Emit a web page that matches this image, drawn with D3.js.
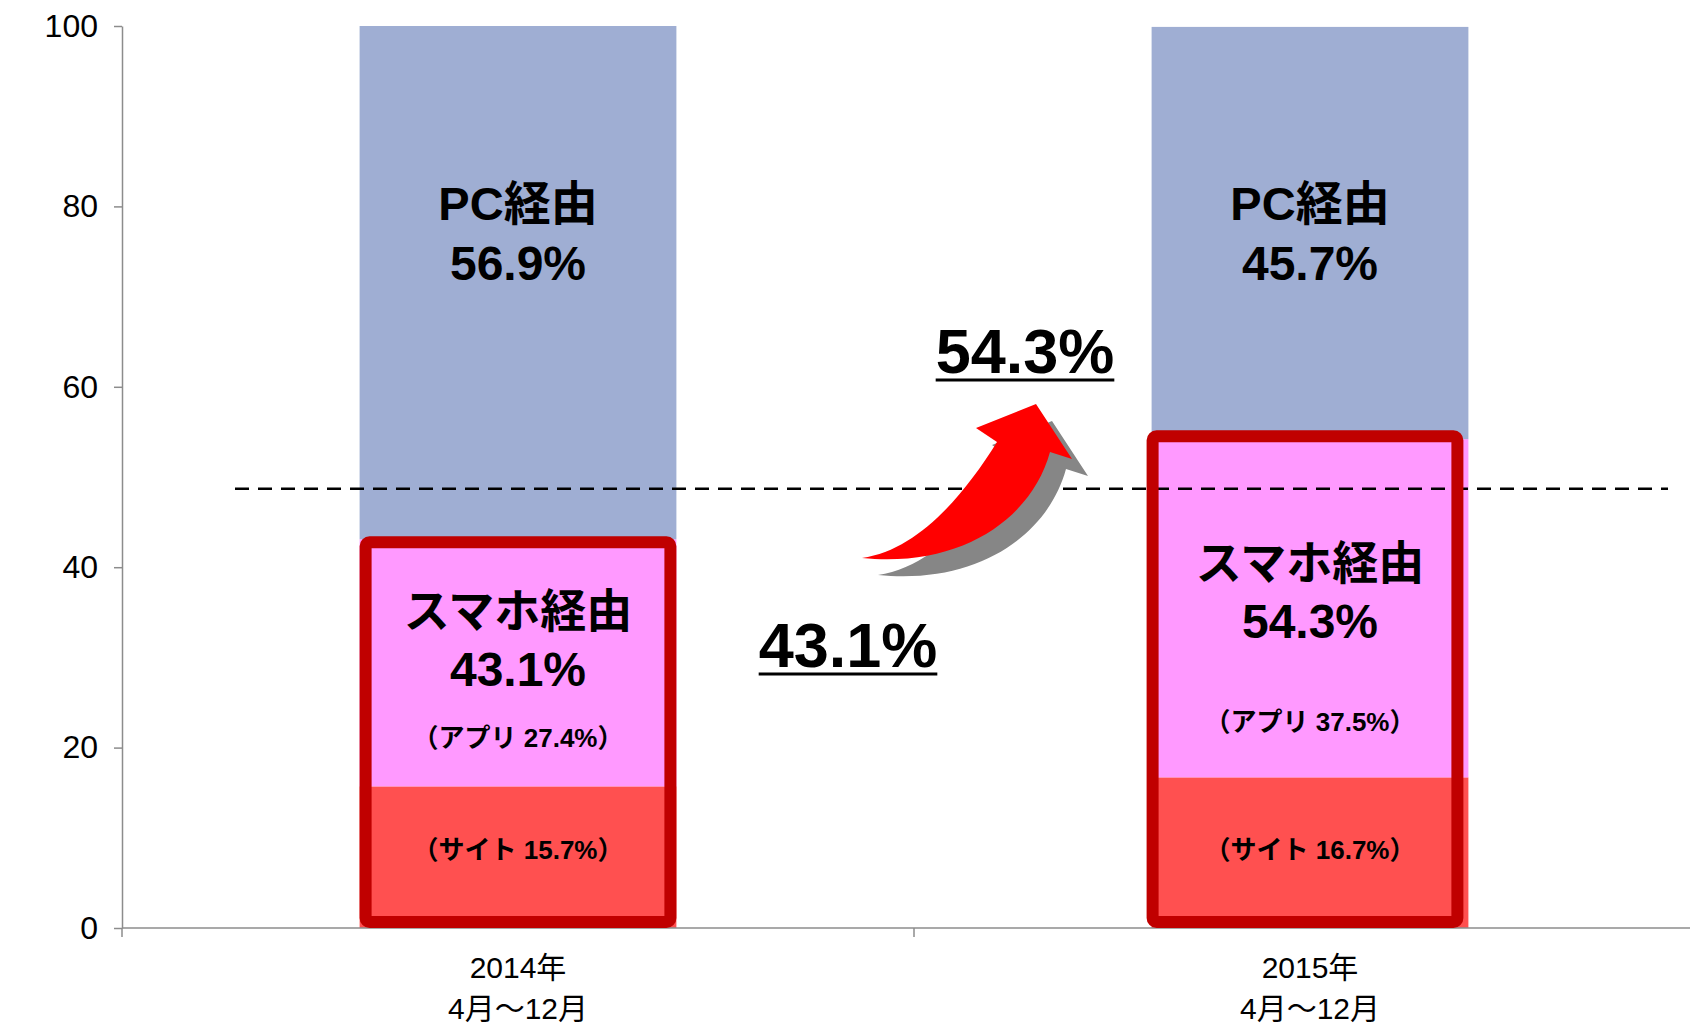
<!DOCTYPE html>
<html>
<head>
<meta charset="utf-8">
<script src="https://cdn.jsdelivr.net/npm/d3@7"></script>
<style>
  html, body { margin: 0; padding: 0; background: #fff; }
  svg { display: block; }
  .axis text { font-family: "Liberation Sans", Arial, "Noto Sans CJK JP", sans-serif; fill: #000; }
  .lbl { font-family: "Liberation Sans", Arial, "Noto Sans CJK JP", sans-serif; font-weight: bold; fill: #000; }
</style>
</head>
<body>
<svg id="chart" width="1690" height="1024"></svg>
<script>
// categories and tick labels
var categories = ["2014", "2015"]
var catYear = ["2014年", "2015年"]
var catPeriod = ["4月～12月", "4月～12月"]
var yTicks = [0, 20, 40, 60, 80, 100]

// series values (%)
var siteValues = [15.7, 16.7]
var appValues = [27.4, 37.5]
var pcValues = [56.9, 45.7]
var smartTotals = [43.1, 54.3]
var refLine = 48.7

var width = 1690, height = 1024

var svg = d3.select("#chart")

var y = d3.scaleLinear().domain([0, 100]).range([928, 26])

// the plot runs a little past the right edge of the window
var x = d3.scaleBand()
    .domain(categories)
    .range([122, 1706])
    .paddingInner(0)
    .paddingOuter(0)

var barW = x.bandwidth() * 0.4
function barX(c) { return x(c) + (x.bandwidth() - barW) / 2 }

// stack the three series
var stacked = categories.map(function(c, i) {
    var s = siteValues[i], a = appValues[i], p = pcValues[i]
    return [
        { cat: c, y0: 0, y1: s, color: "#FF5050" },
        { cat: c, y0: s, y1: s + a, color: "#FF99FF" },
        { cat: c, y0: s + a, y1: Math.min(100, s + a + p), color: "#9FAED3" }
    ]
})

var barsG = svg.append("g")
stacked.forEach(function(segs) {
    barsG.selectAll(null).data(segs).enter().append("rect")
        .attr("x", function(d) { return barX(d.cat) })
        .attr("width", barW)
        .attr("y", function(d) { return y(d.y1) })
        .attr("height", function(d) { return y(d.y0) - y(d.y1) })
        .attr("fill", function(d) { return d.color })
})

// y axis
var yAxis = d3.axisLeft(y).tickValues(yTicks).tickSize(8).tickSizeOuter(0).tickPadding(16)
var yg = svg.append("g")
    .attr("class", "axis")
    .attr("transform", "translate(" + x.range()[0] + ",0)")
    .call(yAxis)
yg.select(".domain").attr("stroke", "#8c8c8c").attr("stroke-width", 1.5)
yg.selectAll(".tick line").attr("stroke", "#8c8c8c").attr("stroke-width", 1.5)
yg.selectAll(".tick text").style("font-size", "32px")

// x axis
var xg = svg.append("g").attr("class", "axis")
xg.append("line")
    .attr("x1", x.range()[0]).attr("x2", width)
    .attr("y1", y(0)).attr("y2", y(0))
    .attr("stroke", "#8c8c8c").attr("stroke-width", 1.5)
var bounds = categories.map(function(c) { return x(c) }).concat([x.range()[1]])
xg.selectAll(".xtick").data(bounds).enter().append("line")
    .attr("x1", function(d) { return d }).attr("x2", function(d) { return d })
    .attr("y1", y(0)).attr("y2", y(0) + 9)
    .attr("stroke", "#8c8c8c").attr("stroke-width", 1.5)
var xl = xg.selectAll(".xlab").data(categories).enter().append("text")
    .attr("text-anchor", "middle")
    .style("font-size", "30px")
xl.append("tspan")
    .attr("x", function(d) { return x(d) + x.bandwidth() / 2 })
    .attr("y", y(0) + 50)
    .text(function(d, i) { return catYear[i] })
xl.append("tspan")
    .attr("x", function(d) { return x(d) + x.bandwidth() / 2 })
    .attr("y", y(0) + 91)
    .text(function(d, i) { return catPeriod[i] })

// dashed reference line
svg.append("line")
    .attr("x1", 235).attr("x2", 1668)
    .attr("y1", y(refLine)).attr("y2", y(refLine))
    .attr("stroke", "#000").attr("stroke-width", 2.5)
    .attr("stroke-dasharray", "14 9")

// red frames round the smartphone part
var boxShift = [0, -5]
var boxLift = [3, 8]
var sw = 12
svg.selectAll(".frame").data(categories).enter().append("rect")
    .attr("x", function(d, i) { return barX(d) + boxShift[i] + sw / 2 })
    .attr("y", function(d, i) { return y(smartTotals[i]) - boxLift[i] + sw / 2 })
    .attr("width", barW - sw)
    .attr("height", function(d, i) { return y(0) - sw / 2 - (y(smartTotals[i]) - boxLift[i] + sw / 2) })
    .attr("rx", 4)
    .attr("fill", "none")
    .attr("stroke", "#C00000")
    .attr("stroke-width", sw)

// labels inside bars
function label(cx, cy, txt, size) {
    svg.append("text").attr("class", "lbl")
        .attr("x", cx).attr("y", cy)
        .attr("text-anchor", "middle")
        .attr("dominant-baseline", "central")
        .style("font-size", size + "px")
        .text(txt)
}
var smartY = [611, 563]
var appY = [738, 722]
categories.forEach(function(c, i) {
    var cx = barX(c) + barW / 2
    label(cx, y(100) + 177, "PC経由", 47)
    label(cx, y(100) + 237, pcValues[i].toFixed(1) + "%", 48)
    label(cx, smartY[i], "スマホ経由", 46)
    label(cx, smartY[i] + 58, smartTotals[i].toFixed(1) + "%", 48)
    label(cx, appY[i], "（アプリ " + appValues[i].toFixed(1) + "%）", 26)
    label(cx, y(8.7), "（サイト " + siteValues[i].toFixed(1) + "%）", 26)
})

// big underlined figures
function bigFigure(cx, cy, txt) {
    var t = svg.append("text").attr("class", "lbl")
        .attr("x", cx).attr("y", cy)
        .attr("text-anchor", "middle")
        .attr("dominant-baseline", "central")
        .style("font-size", "63px")
        .text(txt)
    var w = t.node().getComputedTextLength()
    svg.append("line")
        .attr("x1", cx - w / 2).attr("x2", cx + w / 2)
        .attr("y1", cy + 29).attr("y2", cy + 29)
        .attr("stroke", "#000").attr("stroke-width", 3)
}
bigFigure(848, 645, smartTotals[0].toFixed(1) + "%")
bigFigure(1025, 351, smartTotals[1].toFixed(1) + "%")

// curved arrow with its shadow
var arrowPath = "M0,0 C55,-8 100,-60 135,-116 L114,-130 L174,-154 L210,-99 L188,-106 C170,-40 100,10 0,0 Z"
var arrowG = svg.append("g").attr("transform", "translate(862,558)")
arrowG.append("path").attr("d", arrowPath)
    .attr("transform", "translate(16,17)")
    .attr("fill", "#868686")
arrowG.append("path").attr("d", arrowPath)
    .attr("fill", "#FF0000")
</script>
</body>
</html>
